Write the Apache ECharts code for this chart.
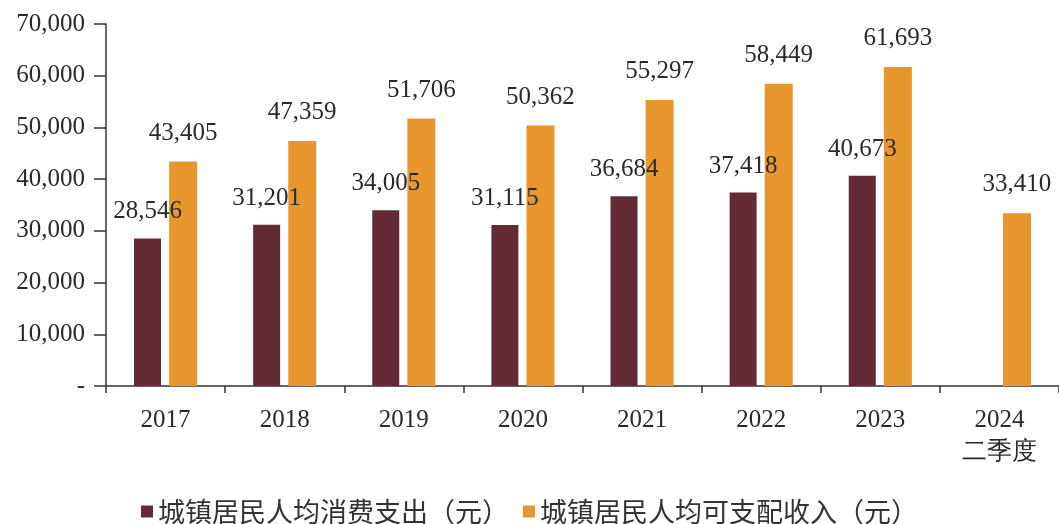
<!DOCTYPE html>
<html><head><meta charset="utf-8">
<script src="https://cdn.jsdelivr.net/npm/echarts@6/dist/echarts.min.js"></script>
<style>html,body{margin:0;padding:0;background:#fff}#c{width:1059px;height:524px}</style>
</head><body><div id="c"></div>
<script>
const categories = ['2017','2018','2019','2020','2021','2022','2023','2024\n二季度'];
const consumption = [28546, 31201, 34005, 31115, 36684, 37418, 40673, null];
const income = [43405, 47359, 51706, 50362, 55297, 58449, 61693, 33410];
const seriesNames = ['城镇居民人均消费支出（元）', '城镇居民人均可支配收入（元）'];

const serif = '"Liberation Serif","DejaVu Serif","Times New Roman",serif';
const fmt = v => v === 0 ? '-' : Number(v).toLocaleString('en-US');

const chart = echarts.init(document.getElementById('c'), null, {renderer:'canvas'});
chart.setOption({
  animation: false,
  backgroundColor: '#fff',
  grid: {left: 106, top: 24, width: 960, height: 362, containLabel: false},
  legend: {
    bottom: -6, left: 'center', itemWidth: 12, itemHeight: 12, itemGap: 14,
    icon: 'rect',
    textStyle: {fontFamily: '"Noto Sans CJK SC",sans-serif', fontSize: 27, color: '#333'},
    data: seriesNames
  },
  xAxis: {
    type: 'category', data: categories,
    axisLine: {lineStyle: {color: '#333', width: 1.5}},
    axisTick: {show: true, alignWithLabel: false, length: 7, lineStyle: {color: '#333', width: 1.5}},
    axisLabel: {fontFamily: serif, fontSize: 25, color: '#2a2a2a', margin: 18, lineHeight: 32}
  },
  yAxis: {
    type: 'value', min: 0, max: 70000, interval: 10000,
    axisLine: {show: true, lineStyle: {color: '#333', width: 1.5}},
    axisTick: {show: true, length: 12, lineStyle: {color: '#333', width: 1.5}},
    splitLine: {show: false},
    axisLabel: {fontFamily: serif, fontSize: 25, color: '#2a2a2a', margin: 21, formatter: fmt}
  },
  series: [
    {
      name: seriesNames[0], type: 'bar', data: consumption,
      barWidth: 27, barGap: '30%',
      itemStyle: {color: '#632b36'},
      label: {show: true, position: 'top', distance: 14, fontFamily: serif, fontSize: 25, color: '#2a2a2a',
        formatter: p => p.value == null ? '' : fmt(p.value)}
    },
    {
      name: seriesNames[1], type: 'bar', data: income,
      barWidth: 28,
      itemStyle: {color: '#e8962e'},
      label: {show: true, position: 'top', distance: 16, fontFamily: serif, fontSize: 25, color: '#2a2a2a',
        formatter: p => fmt(p.value)}
    }
  ]
});
</script></body></html>
